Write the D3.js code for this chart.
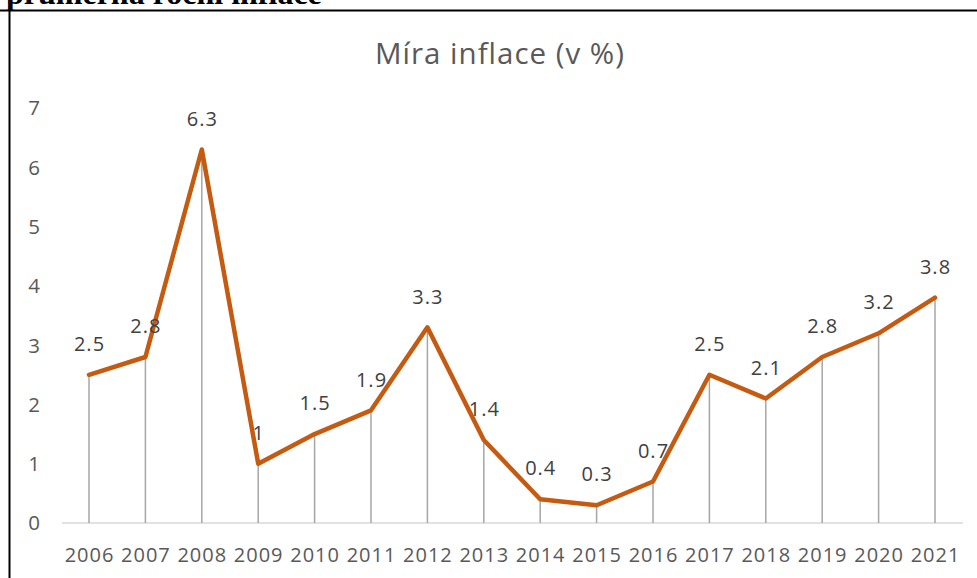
<!DOCTYPE html>
<html><head><meta charset="utf-8">
<script src="https://cdn.jsdelivr.net/npm/d3@7"></script>
<style>body{margin:0;background:#fff;} svg{display:block;}</style>
</head><body>
<svg id="c" width="977" height="578"></svg>
<script>
const years = ["2006","2007","2008","2009","2010","2011","2012","2013","2014","2015","2016","2017","2018","2019","2020","2021"];
const inflation = [2.5,2.8,6.3,1,1.5,1.9,3.3,1.4,0.4,0.3,0.7,2.5,2.1,2.8,3.2,3.8];
const yTicks = [0,1,2,3,4,5,6,7];
const chartTitle = "Míra inflace (v %)";
const heading = "průměrná roční inflace";

const svg = d3.select("#c");
const font = "'Open Sans', sans-serif";

// heading (cut off at top)
svg.append("text").attr("x",6).attr("y",3.5).attr("font-family","'Liberation Serif', 'Times New Roman', serif")
  .attr("font-weight","bold").attr("font-size",32).attr("fill","#000").text(heading);
// box border
svg.append("line").attr("x1",0).attr("x2",977).attr("y1",10.5).attr("y2",10.5).attr("stroke","#000").attr("stroke-width",2);
svg.append("line").attr("x1",9.5).attr("x2",9.5).attr("y1",9.5).attr("y2",578).attr("stroke","#000").attr("stroke-width",2);

const x = d3.scalePoint().domain(years).range([89,935]);
const y = d3.scaleLinear().domain([0,7]).range([523,108]);

svg.append("text").attr("x",500).attr("y",64).attr("text-anchor","middle").attr("font-family",font)
  .attr("font-size",29.5).attr("letter-spacing",1).attr("fill","#595959").text(chartTitle);

// baseline axis
svg.append("line").attr("x1",62).attr("x2",963).attr("y1",y(0)).attr("y2",y(0)).attr("stroke","#d9d9d9").attr("stroke-width",1.5);

// y tick labels
svg.selectAll(".yt").data(yTicks).enter().append("text")
  .attr("x",34).attr("y",d=>y(d)).attr("dy","0.36em").attr("text-anchor","middle")
  .attr("font-family",font).attr("font-size",20.5).attr("fill","#595959").text(d=>d);

// x labels
svg.selectAll(".xt").data(years).enter().append("text")
  .attr("x",d=>x(d)+0.5).attr("y",562).attr("text-anchor","middle")
  .attr("font-family",font).attr("font-size",20).attr("letter-spacing",1).attr("fill","#595959").text(d=>d);

// drop lines
svg.selectAll(".drop").data(years).enter().append("line")
  .attr("x1",d=>x(d)).attr("x2",d=>x(d)).attr("y1",(d,i)=>y(inflation[i])).attr("y2",y(0))
  .attr("stroke","#a6a6a6").attr("stroke-width",1.5);

// line
const line = d3.line().x((d,i)=>x(years[i])).y(d=>y(d));
svg.append("path").datum(inflation).attr("d",line).attr("fill","none")
  .attr("stroke","#C55A11").attr("stroke-width",4.5).attr("stroke-linejoin","round").attr("stroke-linecap","round");

// data labels
svg.selectAll(".dl").data(inflation).enter().append("text")
  .attr("x",(d,i)=>x(years[i])+0.5).attr("y",d=>y(d)-31).attr("dy","0.36em").attr("text-anchor","middle")
  .attr("font-family",font).attr("font-size",20).attr("letter-spacing",1).attr("fill","#404040").text(d=>d);
</script>
</body></html>
